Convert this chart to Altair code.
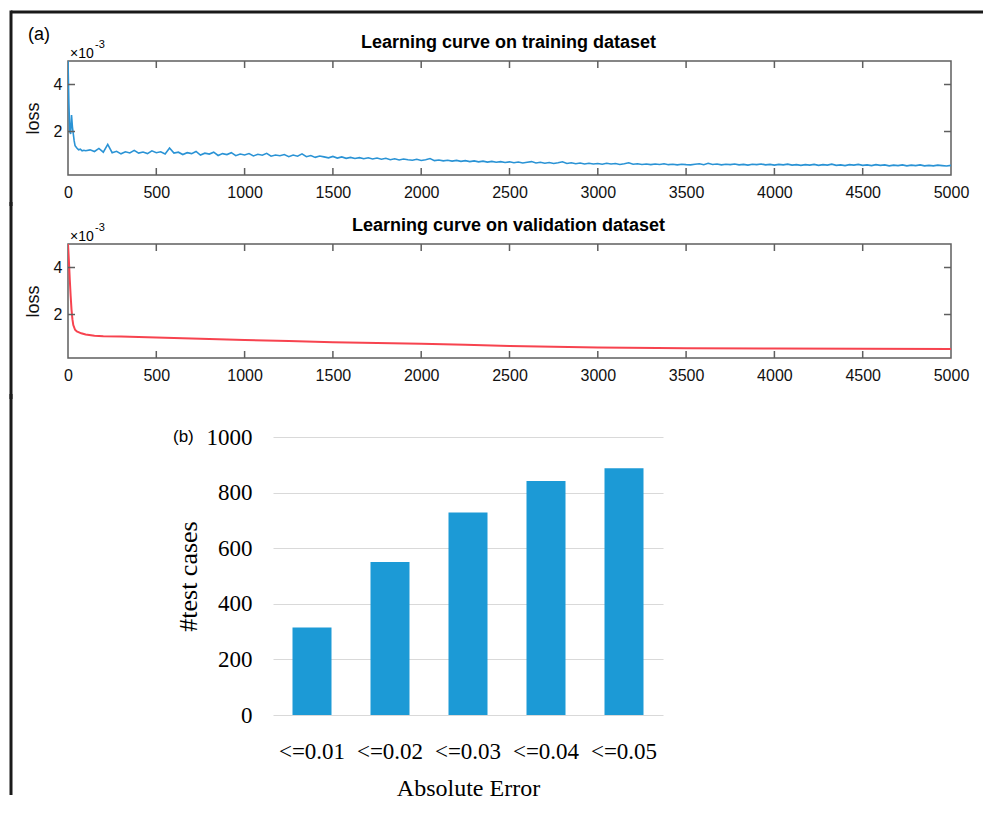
import altair as alt
import pandas as pd

# ---------------- data ----------------
train_epoch = [0, 5, 10, 15, 20, 25, 30, 35, 40, 50, 60, 70, 80, 90,
               100, 125, 150, 175, 200, 225, 250, 275, 300, 325, 350, 375, 400, 425, 450, 475, 500, 525, 550, 575,
               600, 625, 650, 675, 700, 725, 750, 775, 800, 825, 850, 875, 900, 925, 950, 975, 1000, 1025, 1050, 1075,
               1100, 1125, 1150, 1175, 1200, 1225, 1250, 1275, 1300, 1325, 1350, 1375, 1400, 1425, 1450, 1475, 1500, 1525, 1550, 1575,
               1600, 1625, 1650, 1675, 1700, 1725, 1750, 1775, 1800, 1825, 1850, 1875, 1900, 1925, 1950, 1975, 2000, 2025, 2050, 2075,
               2100, 2125, 2150, 2175, 2200, 2225, 2250, 2275, 2300, 2325, 2350, 2375, 2400, 2425, 2450, 2475, 2500, 2525, 2550, 2575,
               2600, 2625, 2650, 2675, 2700, 2725, 2750, 2775, 2800, 2825, 2850, 2875, 2900, 2925, 2950, 2975, 3000, 3025, 3050, 3075,
               3100, 3125, 3150, 3175, 3200, 3225, 3250, 3275, 3300, 3325, 3350, 3375, 3400, 3425, 3450, 3475, 3500, 3525, 3550, 3575,
               3600, 3625, 3650, 3675, 3700, 3725, 3750, 3775, 3800, 3825, 3850, 3875, 3900, 3925, 3950, 3975, 4000, 4025, 4050, 4075,
               4100, 4125, 4150, 4175, 4200, 4225, 4250, 4275, 4300, 4325, 4350, 4375, 4400, 4425, 4450, 4475, 4500, 4525, 4550, 4575,
               4600, 4625, 4650, 4675, 4700, 4725, 4750, 4775, 4800, 4825, 4850, 4875, 4900, 4925, 4950, 4975, 5000]
train_loss = [5.0, 3.2, 2.0, 1.9, 2.7, 2.2, 1.9, 1.6, 1.4, 1.3, 1.22, 1.25, 1.18, 1.2,
              1.18, 1.22, 1.15, 1.28, 1.12, 1.45, 1.1, 1.16, 1.05, 1.14, 1.09, 1.2, 1.08, 1.13, 1.06, 1.18, 1.1, 1.14, 1.04, 1.3,
              1.08, 1.12, 1.02, 1.1, 1.06, 1.15, 1.0, 1.08, 1.04, 1.12, 0.98, 1.06, 1.02, 1.1, 0.97, 1.04, 1.0, 1.06, 0.96, 1.03,
              0.99, 1.07, 0.95, 1.0, 0.97, 1.02, 0.93, 1.0, 0.95, 1.05, 0.93, 0.98, 0.9, 0.96, 0.92, 0.88, 0.94, 0.87, 0.92, 0.86,
              0.9, 0.85, 0.89, 0.84, 0.88, 0.83, 0.87, 0.82, 0.86, 0.8, 0.84, 0.79, 0.83, 0.8, 0.78, 0.82, 0.77, 0.8, 0.85, 0.76,
              0.79, 0.75, 0.78, 0.74, 0.77, 0.73, 0.76, 0.72, 0.75, 0.71, 0.74, 0.7, 0.73, 0.69, 0.72, 0.68, 0.71, 0.67, 0.7, 0.66,
              0.69, 0.72, 0.66, 0.69, 0.65, 0.68, 0.64, 0.67, 0.71, 0.64, 0.67, 0.63, 0.66, 0.62, 0.65, 0.62, 0.64, 0.61, 0.65, 0.62,
              0.64, 0.6, 0.63, 0.67, 0.61, 0.63, 0.6, 0.62, 0.59, 0.62, 0.6, 0.63, 0.59, 0.61, 0.58, 0.61, 0.59, 0.58, 0.61, 0.63,
              0.59, 0.65, 0.6, 0.62, 0.58, 0.61, 0.59, 0.62, 0.58, 0.6, 0.57, 0.61, 0.59, 0.62, 0.58, 0.6, 0.57, 0.6, 0.58, 0.61,
              0.57, 0.59, 0.56, 0.59, 0.57, 0.6, 0.56, 0.59, 0.57, 0.61, 0.56, 0.58, 0.55, 0.59, 0.57, 0.6, 0.56, 0.58, 0.55, 0.59,
              0.56, 0.58, 0.54, 0.57, 0.55, 0.58, 0.54, 0.57, 0.55, 0.58, 0.54, 0.56, 0.54, 0.57, 0.55, 0.53, 0.56]

val_epoch = [0, 5, 10, 15, 20, 25, 30, 40, 50, 75, 100, 150, 200, 300, 500, 750, 1000,
             1250, 1500, 1750, 2000, 2250, 2500, 2750, 3000, 3500, 4000, 4500, 5000]
val_loss = [5.0, 4.3, 3.5, 2.8, 2.2, 1.8, 1.55, 1.35, 1.28, 1.2, 1.15, 1.1, 1.08, 1.06, 1.02, 0.97, 0.92,
            0.87, 0.82, 0.79, 0.76, 0.71, 0.66, 0.63, 0.6, 0.57, 0.55, 0.54, 0.53]

epoch_ticks = [0, 500, 1000, 1500, 2000, 2500, 3000, 3500, 4000, 4500, 5000]
loss_ticks = [2, 4]

bar_labels = ["<=0.01", "<=0.02", "<=0.03", "<=0.04", "<=0.05"]
bar_values = [315, 550, 728, 842, 888]
bar_ticks = [0, 200, 400, 600, 800, 1000]

# ---------------- styling ----------------
W, H = 883, 114
SANS = "Liberation Sans"
SERIF = "Liberation Serif"
BOX = "#5f5f5f"
BORDER = "#1a1a1a"
BX = -57  # left border position relative to plot origin

one = pd.DataFrame({"a": [0]})


def text(t, x, y, size, weight="normal", align="left", font=SANS):
    return alt.Chart(one).mark_text(
        text=t, font=font, fontSize=size, fontWeight=weight, align=align,
        baseline="alphabetic", color="#000000"
    ).encode(x=alt.value(x), y=alt.value(y))


def vborder(y1, y2):
    return alt.Chart(one).mark_rule(color=BORDER, strokeWidth=3).encode(
        x=alt.value(BX), y=alt.value(y1), y2=alt.value(y2))


x_axis = alt.Axis(
    values=epoch_ticks, format="d", domain=False, ticks=False, grid=False,
    labelFlush=False, labelOverlap=False, labelPadding=9, labelFont=SANS,
    labelFontSize=16, labelColor="#111111", title=None)
y_axis = alt.Axis(
    values=loss_ticks, format="d", domain=False, ticks=False, grid=False,
    labelPadding=6, labelFont=SANS, labelFontSize=16, labelColor="#111111",
    title="loss", titleFont=SANS, titleFontSize=18, titleFontWeight="normal",
    titleColor="#111111", titlePadding=11)


def line_panel(epochs, losses, color, sw, title, y_top, y_bot, extra):
    xs = alt.Scale(domain=[0, 5000], nice=False)
    ys = alt.Scale(domain=[0.15, 5], nice=False, zero=False)
    df = pd.DataFrame({"epoch": epochs, "loss": losses})
    line = alt.Chart(df).mark_line(color=color, strokeWidth=sw, clip=True).encode(
        x=alt.X("epoch:Q", scale=xs, axis=x_axis),
        y=alt.Y("loss:Q", scale=ys, axis=y_axis),
    )
    xt = pd.DataFrame({"epoch": epoch_ticks[1:-1]})
    yt = pd.DataFrame({"loss": loss_ticks})
    tick_b = alt.Chart(xt).mark_rule(color=BOX, strokeWidth=1.5).encode(
        x=alt.X("epoch:Q", scale=xs, axis=x_axis), y=alt.value(H), y2=alt.value(H - 7))
    tick_t = alt.Chart(xt).mark_rule(color=BOX, strokeWidth=1.5).encode(
        x=alt.X("epoch:Q", scale=xs, axis=x_axis), y=alt.value(0), y2=alt.value(7))
    tick_l = alt.Chart(yt).mark_rule(color=BOX, strokeWidth=1.5).encode(
        y=alt.Y("loss:Q", scale=ys, axis=y_axis), x=alt.value(0), x2=alt.value(7))
    tick_r = alt.Chart(yt).mark_rule(color=BOX, strokeWidth=1.5).encode(
        y=alt.Y("loss:Q", scale=ys, axis=y_axis), x=alt.value(W - 7), x2=alt.value(W))
    layers = [line, tick_b, tick_t, tick_l, tick_r, vborder(y_top, y_bot),
              text(title, W / 2 - 1, -13, 18, weight="bold", align="center"),
              text("\u00d710", 2, -3, 14),
              text("-3", 27, -13, 11)] + extra
    return alt.layer(*layers).properties(
        width=W, height=H,
        view=alt.ViewBackground(stroke=BOX, strokeWidth=1.5))


top_border = alt.Chart(one).mark_rule(color=BORDER, strokeWidth=3).encode(
    x=alt.value(BX), x2=alt.value(915), y=alt.value(-49))

p1 = line_panel(train_epoch, train_loss, "#2a93d5", 1.6,
                "Learning curve on training dataset", -50.5, 145,
                [top_border, text("(a)", -40, -21, 18)])
p2 = line_panel(val_epoch, val_loss, "#f7434f", 2,
                "Learning curve on validation dataset", -42, 155, [])

# ---------------- bar panel ----------------
bar_df = pd.DataFrame({"cat": bar_labels, "n": bar_values})
bxs = alt.Scale(domain=bar_labels, range=[205, 595], paddingInner=0.5, paddingOuter=0.25)
bys = alt.Scale(domain=[0, 1000], nice=False)
bars = alt.Chart(bar_df).mark_bar(color="#1c9ad6").encode(
    x=alt.X("cat:N", scale=bxs, sort=bar_labels, axis=alt.Axis(
        domain=False, ticks=False, grid=False, labelAngle=0, labelFont=SERIF,
        labelFontSize=23, labelColor="#000000", labelPadding=25,
        title="Absolute Error", titleFont=SERIF, titleFontSize=24,
        titleFontWeight="normal", titleColor="#000000", titlePadding=13)),
    y=alt.Y("n:Q", scale=bys, axis=alt.Axis(
        values=bar_ticks, format="d", offset=-205, domain=False, ticks=False, grid=True,
        gridColor="#d9d9d9", gridWidth=1, labelFont=SERIF, labelFontSize=23,
        labelColor="#000000", labelPadding=21, title="#test cases",
        titleFont=SERIF, titleFontSize=26, titleFontWeight="normal",
        titleColor="#000000", titlePadding=5)),
)
p3 = alt.layer(bars, vborder(-43, 358), text("(b)", 105, 5, 17)).properties(
    width=W, height=278)

chart = alt.vconcat(p1, p2, p3, spacing=-10).properties(
    padding={"left": 0, "top": 0, "right": 0, "bottom": 0}
).configure_view(stroke="transparent")

chart.save("out.html", embed_options={"renderer": "svg", "actions": False})
